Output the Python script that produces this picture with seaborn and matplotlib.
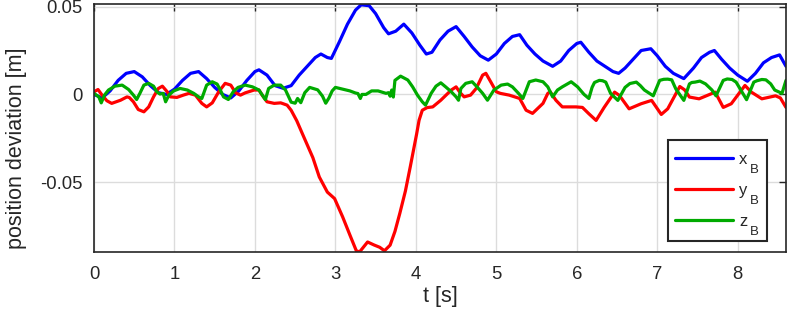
import numpy as np
import pandas as pd
import matplotlib
matplotlib.use("Agg")
import matplotlib.pyplot as plt
from matplotlib.patches import Rectangle
import seaborn as sns

# ---- data ----
t_x = [0, 0.1, 0.2, 0.3, 0.4, 0.5, 0.6, 0.7, 0.8, 0.9, 1.0, 1.1, 1.2, 1.3, 1.4, 1.5, 1.6, 1.7,
       1.8, 1.9, 2.0, 2.05, 2.15, 2.25, 2.35, 2.45, 2.55, 2.65, 2.75, 2.82, 2.9, 2.95, 3.05, 3.15,
       3.25, 3.32, 3.42, 3.5, 3.6, 3.66, 3.75, 3.85, 3.95, 4.05, 4.13, 4.2, 4.3, 4.4, 4.5, 4.6,
       4.7, 4.8, 4.9, 5.0, 5.1, 5.2, 5.29, 5.38, 5.48, 5.58, 5.7, 5.8, 5.9, 6.0, 6.05, 6.15, 6.25,
       6.35, 6.45, 6.52, 6.6, 6.7, 6.8, 6.92, 7.0, 7.1, 7.2, 7.33, 7.45, 7.55, 7.65, 7.71, 7.8,
       7.9, 8.0, 8.12, 8.22, 8.32, 8.42, 8.52, 8.6]
x_B = [0.000, -0.002, 0.002, 0.008, 0.012, 0.013, 0.010, 0.005, 0.001, 0.000, 0.003, 0.008,
       0.012, 0.013, 0.009, 0.004, 0.000, -0.002, 0.002, 0.008, 0.013, 0.014, 0.011, 0.005,
       0.0035, 0.005, 0.011, 0.016, 0.021, 0.023, 0.021, 0.0205, 0.030, 0.040, 0.048, 0.051,
       0.0505, 0.046, 0.038, 0.0345, 0.036, 0.040, 0.035, 0.028, 0.023, 0.024, 0.031, 0.036,
       0.0386, 0.033, 0.027, 0.022, 0.0195, 0.023, 0.029, 0.033, 0.034, 0.028, 0.023, 0.019,
       0.016, 0.019, 0.025, 0.029, 0.0297, 0.024, 0.019, 0.016, 0.013, 0.012, 0.015, 0.020,
       0.025, 0.026, 0.022, 0.016, 0.012, 0.009, 0.015, 0.021, 0.024, 0.025, 0.020, 0.015,
       0.011, 0.0075, 0.012, 0.018, 0.021, 0.0225, 0.016]

t_y = [0, 0.05, 0.1, 0.16, 0.22, 0.33, 0.41, 0.44, 0.49, 0.55, 0.62, 0.68, 0.74, 0.8, 0.85,
       0.91, 0.95, 1.03, 1.11, 1.18, 1.26, 1.34, 1.4, 1.47, 1.55, 1.63, 1.7, 1.76, 1.82, 1.88,
       1.99, 2.05, 2.09, 2.15, 2.24, 2.32, 2.4, 2.45, 2.52, 2.59, 2.72, 2.8, 2.9, 2.99, 3.09,
       3.18, 3.26, 3.3, 3.4, 3.48, 3.55, 3.61, 3.68, 3.74, 3.8, 3.87, 3.93, 4.01, 4.04, 4.08,
       4.14, 4.21, 4.31, 4.44, 4.5, 4.55, 4.6, 4.68, 4.75, 4.83, 4.87, 4.93, 5.0, 5.05, 5.16,
       5.29, 5.37, 5.45, 5.58, 5.64, 5.67, 5.74, 5.82, 5.99, 6.07, 6.15, 6.24, 6.34, 6.47, 6.53,
       6.65, 6.8, 6.93, 7.05, 7.13, 7.28, 7.34, 7.4, 7.52, 7.72, 7.82, 7.92, 8.09, 8.17, 8.3,
       8.47, 8.53, 8.6]
y_B = [0.0015, 0.0028, -0.0004, -0.0036, -0.0051, -0.0033, -0.0014, -0.0018, -0.0042, -0.0086,
       -0.0099, -0.0071, -0.0014, 0.0034, 0.0047, 0.0015, -0.0014, -0.0017, -0.0004, 0.0006,
       -0.0004, -0.0051, -0.0071, -0.0048, 0.0015, 0.0063, 0.0053, 0.0009, -0.0004, 0.0009,
       0.0025, 0.0025, -0.0004, -0.0042, -0.0051, -0.0048, -0.0061, -0.009, -0.015, -0.0224,
       -0.036, -0.047, -0.0556, -0.0593, -0.0697, -0.080, -0.089, -0.0897, -0.084, -0.0857,
       -0.087, -0.089, -0.0858, -0.078, -0.0678, -0.055, -0.0413, -0.0224, -0.0147, -0.009,
       -0.0075, -0.0071, -0.0033, 0.0025, 0.0043, 0.001, -0.0014, -0.0004, 0.0034, 0.011,
       0.012, 0.0072, 0.0015, 0.0006, -0.0004, -0.0023, -0.009, -0.0108, -0.0051, 0.0006,
       0.0015, -0.0033, -0.0071, -0.0071, -0.0074, -0.011, -0.0148, -0.0074, 0.0013, -0.0006,
       -0.0082, -0.0053, -0.0034, -0.0114, -0.0082, 0.0045, 0.0026, -0.0015, -0.0025, 0.0013,
       -0.0074, -0.0053, 0.0051, 0.0013, -0.0025, -0.0008, -0.002, -0.0074]

t_z = [0, 0.06, 0.09, 0.13, 0.18, 0.26, 0.35, 0.43, 0.49, 0.53, 0.57, 0.62, 0.68, 0.74, 0.78,
       0.82, 0.86, 0.89, 0.93, 0.99, 1.07, 1.16, 1.24, 1.30, 1.34, 1.37, 1.40, 1.47, 1.53, 1.57,
       1.61, 1.67, 1.73, 1.79, 1.88, 1.97, 2.05, 2.11, 2.13, 2.17, 2.24, 2.32, 2.38, 2.45, 2.5,
       2.53, 2.57, 2.62, 2.68, 2.78, 2.84, 2.88, 2.92, 2.96, 3.0, 3.18, 3.25, 3.28, 3.31, 3.33,
       3.38, 3.45, 3.53, 3.63, 3.66, 3.68, 3.7, 3.72, 3.74, 3.81, 3.9, 3.96, 4.02, 4.08, 4.12,
       4.19, 4.25, 4.31, 4.37, 4.44, 4.5, 4.53, 4.56, 4.62, 4.7, 4.76, 4.83, 4.89, 4.97, 5.06,
       5.14, 5.2, 5.27, 5.33, 5.37, 5.41, 5.49, 5.58, 5.64, 5.7, 5.76, 5.82, 5.93, 6.01, 6.09,
       6.15, 6.19, 6.22, 6.28, 6.32, 6.36, 6.42, 6.51, 6.6, 6.66, 6.74, 6.79, 6.84, 6.95, 7.03,
       7.08, 7.13, 7.18, 7.23, 7.33, 7.4, 7.43, 7.47, 7.53, 7.6, 7.68, 7.73, 7.82, 7.87, 7.93,
       7.98, 8.03, 8.11, 8.2, 8.24, 8.3, 8.35, 8.41, 8.46, 8.55, 8.6]
z_B = [0.0006, -0.0014, -0.0048, -0.0004, 0.0025, 0.0047, 0.0053, 0.0028, -0.0004, -0.0029,
       0.0006, 0.0053, 0.0063, 0.0047, 0.0015, 0.0002, 0.0006, -0.0042, -0.0004, 0.002, 0.0034,
       0.0025, 0.0006, -0.0014, -0.0023, 0.0015, 0.0053, 0.0072, 0.0059, 0.0025, -0.0014,
       -0.0029, 0.0015, 0.004, 0.0053, 0.0043, 0.0025, -0.0017, -0.003, 0.0034, 0.0053, 0.0053,
       0.0025, -0.0044, -0.005, -0.0023, -0.0047, 0.001, 0.004, 0.0026, -0.001, -0.005, -0.002,
       0.002, 0.004, 0.002, 0.0008, 0.0005, -0.0023, 0.000, 0.000, 0.002, 0.002, 0.0006, 0.001,
       -0.001, 0.0025, -0.0015, 0.008, 0.0104, 0.0082, 0.0043, -0.0004, -0.0042, -0.0061,
       0.0006, 0.0047, 0.0066, 0.0043, 0.0015, -0.0014, -0.0033, 0.0034, 0.0063, 0.0072,
       0.0043, 0.0006, -0.0033, 0.0025, 0.0053, 0.0059, 0.0043, 0.0009, -0.0023, 0.0025,
       0.0072, 0.0082, 0.0072, 0.0043, -0.0014, 0.0025, 0.0043, 0.0072, 0.0043, 0.000, -0.0023,
       0.004, 0.0068, 0.008, 0.0078, 0.007, 0.0006, -0.0034, 0.004, 0.0062, 0.007, 0.005,
       0.0025, -0.0008, 0.008, 0.0086, 0.0087, 0.0083, 0.0032, -0.0034, 0.006, 0.0068, 0.007,
       0.0076, 0.006, 0.0025, -0.0008, 0.008, 0.0088, 0.0085, 0.007, 0.0032, -0.003, 0.007,
       0.0078, 0.0085, 0.0083, 0.006, 0.0025, 0.0006, 0.008]

letters = ["x", "y", "z"]
subscript = "B"
colors = ["#0000FF", "#FF0000", "#00AA00"]
xticks = [0, 1, 2, 3, 4, 5, 6, 7, 8]
yticks = [-0.05, 0, 0.05]
yticklabels = ["-0.05", "0", "0.05"]

sns.set_theme(style="white")
plt.rcParams["font.family"] = ["Liberation Sans", "DejaVu Sans"]

df = pd.concat([
    pd.DataFrame({"t": t_x, "v": x_B, "s": letters[0]}),
    pd.DataFrame({"t": t_y, "v": y_B, "s": letters[1]}),
    pd.DataFrame({"t": t_z, "v": z_B, "s": letters[2]}),
])

W, H = 789, 317
TXT = "#262626"
fig = plt.figure(figsize=(7.89, 3.17), dpi=100)
ax = fig.add_axes([94 / W, 1 - 252 / H, (786 - 94) / W, (252 - 4.3) / H])
sns.lineplot(data=df, x="t", y="v", hue="s", palette=dict(zip(letters, colors)),
             linewidth=2.3, ax=ax, sort=False, estimator=None)

ax.set_xlim(0, 8.6)
ax.set_ylim(-0.0897, 0.0513)
ax.set_xticks(xticks)
ax.set_xticklabels([str(v) for v in xticks])
ax.set_yticks(yticks)
ax.set_yticklabels(yticklabels)
ax.grid(True, color="#dcdcdc", linewidth=1.0)
ax.set_axisbelow(True)
for sp in ax.spines.values():
    sp.set_color(TXT)
    sp.set_linewidth(1.2)
    sp.set_visible(True)
ax.tick_params(direction="in", length=5, width=1.0, color=TXT, labelsize=13.3,
               labelcolor=TXT, top=True, right=True)
ax.tick_params(axis="x", pad=10)
ax.tick_params(axis="y", pad=8)
ax.set_xlabel("t [s]", fontsize=15.5, color=TXT)
ax.set_ylabel("position deviation [m]", fontsize=15.5, color=TXT)
ax.xaxis.set_label_coords(0.5, -0.138)
ax.yaxis.set_label_coords(-0.097, 0.42)

# legend frame (MATLAB style box), drawn as a patch in figure pixels
frame = Rectangle((668 / W, 1 - 241 / H), 99 / W, 101 / H, transform=fig.transFigure,
                  facecolor="white", edgecolor=TXT, linewidth=1.5, zorder=4.5, clip_on=False)
ax.add_patch(frame)

leg_fs = 12
fs_px = leg_fs * 100 / 72
leg = ax.legend(labels=letters, handles=ax.get_lines()[:3],
                loc="upper left", bbox_to_anchor=(675 / W, 1 - 148.5 / H),
                bbox_transform=fig.transFigure, fontsize=leg_fs,
                frameon=False, handlelength=58 / fs_px, handletextpad=0.36,
                labelspacing=0.96, borderpad=0, borderaxespad=0)
leg.set_zorder(5)
for line in leg.get_lines():
    line.set_linewidth(2.3)
for txt in leg.get_texts():
    txt.set_color(TXT)

# align the first legend handle with the reference position (x=675, y=158 px from top)
fig.canvas.draw()
renderer = fig.canvas.get_renderer()
hb = leg.get_lines()[0].get_window_extent(renderer)
dx = 675 - hb.x0
dy = (H - 158.3) - (hb.y0 + hb.y1) / 2
leg.set_bbox_to_anchor(((675 + dx) / W, (H - 148.5 + dy) / H), transform=fig.transFigure)
fig.canvas.draw()

# subscripts "B" placed below/right of the letters, MATLAB style
inv = fig.transFigure.inverted()
for txt, letter in zip(leg.get_texts(), letters):
    bb = txt.get_window_extent(renderer)
    baseline = bb.y0 + 0.212 * fs_px
    fx, fy = inv.transform((bb.x1 + 2.5, baseline - 9.5))
    fig.text(fx, fy, subscript, fontsize=9.5, color=TXT, ha="left", va="baseline", zorder=6)

fig.savefig("out.png", dpi=100)
